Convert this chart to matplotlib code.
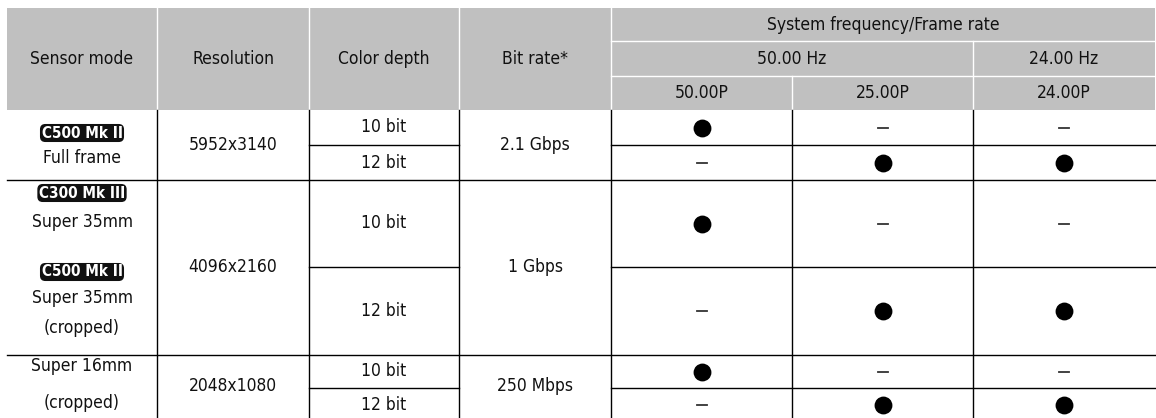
import matplotlib.pyplot as plt
from matplotlib.patches import Rectangle

plt.rcParams['font.family'] = ['DejaVu Sans']
plt.rcParams['font.stretch'] = 'condensed'

# table content
header_cols = ["Sensor mode", "Resolution", "Color depth", "Bit rate*"]
sys_title = "System frequency/Frame rate"
freqs = ["50.00 Hz", "24.00 Hz"]
frame_rates = ["50.00P", "25.00P", "24.00P"]

resolutions = ["5952x3140", "4096x2160", "2048x1080"]
bit_rates = ["2.1 Gbps", "1 Gbps", "250 Mbps"]
color_depths = ["10 bit", "12 bit"]
# availability per row (10/12 bit per group) x frame rate
avail = [
    [1, 0, 0],
    [0, 1, 1],
    [1, 0, 0],
    [0, 1, 1],
    [1, 0, 0],
    [0, 1, 1],
]

# layout (pixel coords)
W, H = 1156, 418
xs = [7, 157, 309, 459, 611, 792, 973, 1155]
hy = [8, 41, 76, 110]
groups = [(110, 145, 180), (180, 267, 355), (355, 388, 421)]

fig = plt.figure(figsize=(W / 100, H / 100), dpi=100)
ax = fig.add_axes([0, 0, 1, 1])
ax.set_xlim(0, W)
ax.set_ylim(H, 0)
ax.axis('off')

FS = 12.5
TC = '#111111'
gray = '#c0c0c0'

# header background
ax.add_patch(Rectangle((xs[0], hy[0]), xs[-1] - xs[0], hy[3] - hy[0], facecolor=gray, edgecolor='none'))
wl = dict(color='white', lw=1.0)
for x in xs[1:5]:
    ax.plot([x, x], [hy[0], hy[3]], **wl)
ax.plot([xs[6], xs[6]], [hy[1], hy[3]], **wl)
ax.plot([xs[5], xs[5]], [hy[2], hy[3]], **wl)
ax.plot([xs[4], xs[7]], [hy[1], hy[1]], **wl)
ax.plot([xs[4], xs[7]], [hy[2], hy[2]], **wl)

def ctext(x, y, s, **kw):
    ax.text(x, y, s, ha='center', va='center', fontsize=FS, color=TC, **kw)

for i, name in enumerate(header_cols):
    ctext((xs[i] + xs[i + 1]) / 2, (hy[0] + hy[3]) / 2, name)
ctext((xs[4] + xs[7]) / 2, (hy[0] + hy[1]) / 2, sys_title)
ctext((xs[4] + xs[6]) / 2, (hy[1] + hy[2]) / 2, freqs[0])
ctext((xs[6] + xs[7]) / 2, (hy[1] + hy[2]) / 2, freqs[1])
for j, fr in enumerate(frame_rates):
    ctext((xs[4 + j] + xs[5 + j]) / 2, (hy[2] + hy[3]) / 2, fr)

# body grid
bl = dict(color='black', lw=1.0)
for x in xs[1:7]:
    ax.plot([x, x], [hy[3], H + 5], **bl)
for top, mid, bot in groups:
    ax.plot([xs[2], xs[3]], [mid, mid], **bl)
    ax.plot([xs[4], xs[7]], [mid, mid], **bl)
    if bot < H:
        ax.plot([xs[0], xs[7]], [bot, bot], **bl)

def logo(x, y, s):
    ax.text(x, y, s, ha='center', va='center', fontsize=11, color='white',
            fontweight='bold',
            bbox=dict(boxstyle='round,pad=0.1,rounding_size=0.35', facecolor='#111111', edgecolor='none'))

cx = (xs[0] + xs[1]) / 2
logo(cx, 133, "C500 Mk II")
ctext(cx, 158, "Full frame")
logo(cx, 193, "C300 Mk III")
ctext(cx, 222, "Super 35mm")
logo(cx, 272, "C500 Mk II")
ctext(cx, 298, "Super 35mm")
ctext(cx, 328, "(cropped)")
ctext(cx, 366, "Super 16mm")
ctext(cx, 403, "(cropped)")

r = 0
for g, (top, mid, bot) in enumerate(groups):
    ctext((xs[1] + xs[2]) / 2, (top + bot) / 2 if bot < H else 386, resolutions[g])
    ctext((xs[3] + xs[4]) / 2, (top + bot) / 2 if bot < H else 386, bit_rates[g])
    for k, (a, b) in enumerate([(top, mid), (mid, bot)]):
        yc = (a + b) / 2
        ctext((xs[2] + xs[3]) / 2, yc, color_depths[k])
        for j in range(3):
            xc = (xs[4 + j] + xs[5 + j]) / 2
            if avail[r][j]:
                ax.scatter([xc], [yc], s=165, color='black', zorder=3, linewidths=0)
            else:
                ax.plot([xc - 5, xc + 5], [yc, yc], color='#333333', lw=1.3)
        r += 1

fig.savefig('out.png', dpi=100)
